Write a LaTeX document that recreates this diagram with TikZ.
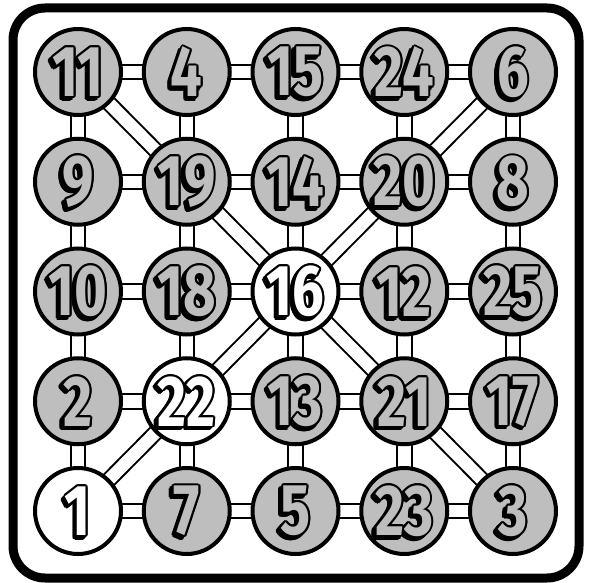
\documentclass[tikz,border=0pt]{standalone}
\usepackage{fontspec}
\usepackage{graphicx}
\usetikzlibrary{calc,backgrounds}
\newfontfamily\numfont{Fira Sans}
\definecolor{discgray}{RGB}{190,190,190}
\tikzset{
  conn/.style={line width=2pt, double=white, double distance=12.5pt},
  disc/.style={circle, draw=black, line width=4pt, minimum size=86pt, inner sep=0pt, fill=discgray},
  wdisc/.style={disc, fill=white},
  numtxt/.style={inner sep=0pt, font=\numfont\bfseries\fontsize{72}{72}\selectfont},
  frame/.style={draw=black, line width=9pt, rounded corners=32pt},
}
\newcommand\numlabel[3]{%
  \foreach \ang [count=\k] in {0,30,...,330}{
    \node[numtxt, text=black] (#1s\k) at ($(#1)+(-2.8,2.8)+(\ang:2)$) {\scalebox{0.78}[1]{#2}};
  }
  \foreach \ang [count=\k] in {0,30,...,330}{
    \node[numtxt, text=black] (#1o\k) at ($(#1)+(\ang:2)$) {\scalebox{0.78}[1]{#2}};
  }
  \node[numtxt, text=#3] (#1t) at (#1) {\scalebox{0.78}[1]{#2}};
}
\begin{document}
\begin{tikzpicture}[x=1pt,y=-1pt]
\useasboundingbox (0,0) rectangle (589,583);
\path[frame] (13,8) rectangle (579,578);
% row 1
\node[disc]  (n11) at (78,72) {};
\node[disc]  (n4)  at (186.75,72) {};
\node[disc]  (n15) at (295.5,72) {};
\node[disc]  (n24) at (404.25,72) {};
\node[disc]  (n6)  at (513,72) {};
% row 2
\node[disc]  (n9)  at (78,181.75) {};
\node[disc]  (n19) at (186.75,181.75) {};
\node[disc]  (n14) at (295.5,181.75) {};
\node[disc]  (n20) at (404.25,181.75) {};
\node[disc]  (n8)  at (513,181.75) {};
% row 3
\node[disc]  (n10) at (78,291.5) {};
\node[disc]  (n18) at (186.75,291.5) {};
\node[wdisc] (n16) at (295.5,291.5) {};
\node[disc]  (n12) at (404.25,291.5) {};
\node[disc]  (n25) at (513,291.5) {};
% row 4
\node[disc]  (n2)  at (78,401.25) {};
\node[wdisc] (n22) at (186.75,401.25) {};
\node[disc]  (n13) at (295.5,401.25) {};
\node[disc]  (n21) at (404.25,401.25) {};
\node[disc]  (n17) at (513,401.25) {};
% row 5
\node[wdisc] (n1)  at (78,511) {};
\node[disc]  (n7)  at (186.75,511) {};
\node[disc]  (n5)  at (295.5,511) {};
\node[disc]  (n23) at (404.25,511) {};
\node[disc]  (n3)  at (513,511) {};
\begin{pgfonlayer}{background}
\foreach \a/\b in {n11/n4,n4/n15,n15/n24,n24/n6,
                   n9/n19,n19/n14,n14/n20,n20/n8,
                   n10/n18,n18/n16,n16/n12,n12/n25,
                   n2/n22,n22/n13,n13/n21,n21/n17,
                   n1/n7,n7/n5,n5/n23,n23/n3,
                   n11/n9,n9/n10,n10/n2,n2/n1,
                   n4/n19,n19/n18,n18/n22,n22/n7,
                   n15/n14,n14/n16,n16/n13,n13/n5,
                   n24/n20,n20/n12,n12/n21,n21/n23,
                   n6/n8,n8/n25,n25/n17,n17/n3,
                   n11/n19,n19/n16,n16/n21,n21/n3,
                   n6/n20,n20/n16,n16/n22,n22/n1}
  \draw[conn] (\a.center) -- (\b.center);
\end{pgfonlayer}
\foreach \v/\c in {11/discgray,4/discgray,15/discgray,24/discgray,6/discgray,
                   9/discgray,19/discgray,14/discgray,20/discgray,8/discgray,
                   10/discgray,18/discgray,16/white,12/discgray,25/discgray,
                   2/discgray,22/white,13/discgray,21/discgray,17/discgray,
                   1/white,7/discgray,5/discgray,23/discgray,3/discgray}
  \numlabel{n\v}{\v}{\c};
\end{tikzpicture}
\end{document}
